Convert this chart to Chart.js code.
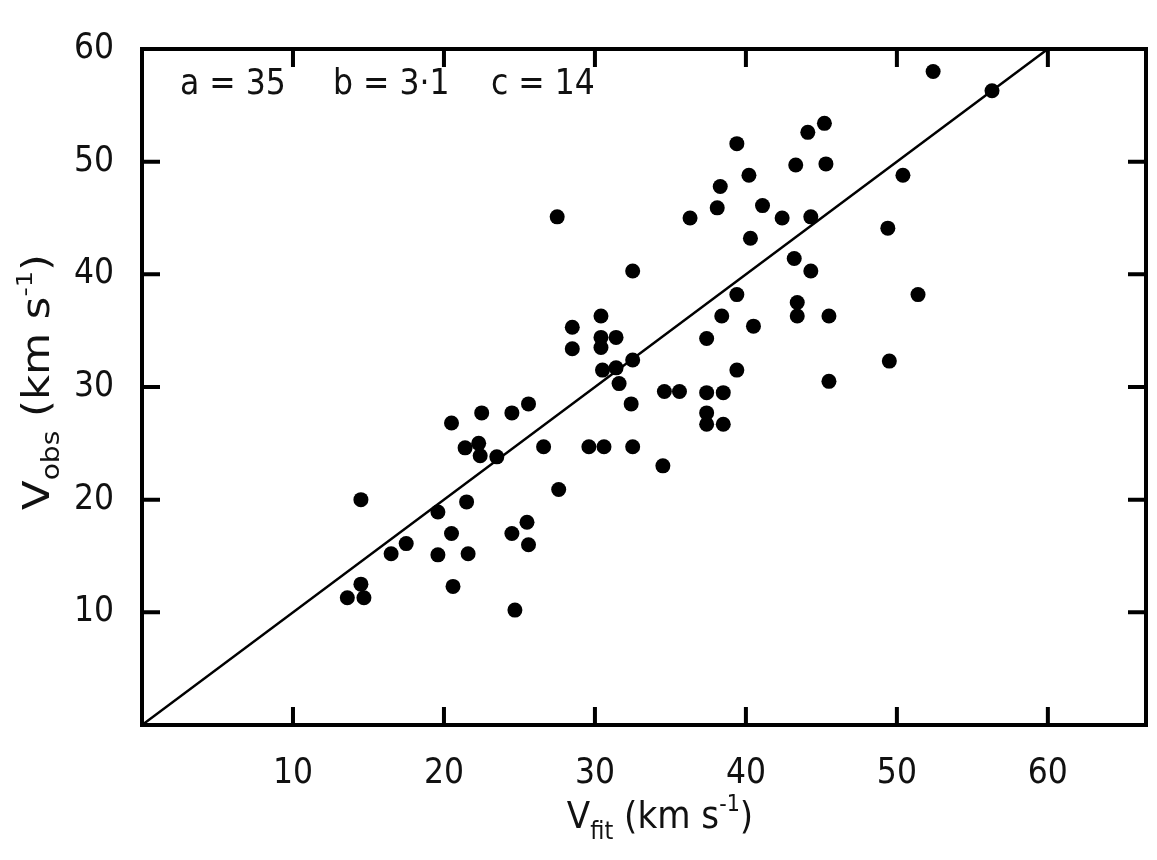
<!DOCTYPE html>
<html>
<head>
<meta charset="utf-8">
<script src="https://cdn.jsdelivr.net/npm/chart.js@4/dist/chart.umd.min.js"></script>
<style>
html,body{margin:0;padding:0;background:#fff;}
#wrap{width:1157px;height:860px;}
</style>
</head>
<body>
<div id="wrap"><canvas id="c" width="1157" height="860"></canvas></div>
<script>
// ---- data ----
const vFit = [13.6,14.5,14.7,14.5,16.5,17.5,19.6,19.6,20.5,20.6,20.5,21.4,21.5,21.6,22.3,22.4,22.5,23.5,24.5,24.5,
              24.7,25.5,25.6,25.6,26.6,27.5,27.6,28.5,28.5,29.6,30.4,30.4,30.4,30.5,31.4,31.4,31.6,32.5,32.4,30.6,
              32.5,32.5,34.5,34.6,35.6,36.3,37.4,37.4,38.5,37.4,37.4,38.5,38.1,38.3,38.4,39.4,39.4,39.4,40.2,40.3,
              40.5,41.1,42.4,43.2,43.3,43.4,43.4,44.1,44.3,44.3,45.2,45.3,45.5,45.5,49.4,49.5,50.4,51.4,52.4,56.3];
const vObs = [11.3,12.5,11.3,20.0,15.2,16.1,15.1,18.9,17.0,12.3,26.8,24.6,19.8,15.2,25.0,23.9,27.7,23.8,27.7,17.0,
              10.2,18.0,16.0,28.5,24.7,45.1,20.9,33.4,35.3,24.7,36.3,34.4,33.5,31.5,34.4,31.7,30.3,32.4,28.5,24.7,
              24.7,40.3,23.0,29.6,29.6,45.0,34.3,29.5,29.5,27.7,26.7,26.7,45.9,47.8,36.3,51.6,38.2,31.5,48.8,43.2,
              35.4,46.1,45.0,41.4,49.7,37.5,36.3,52.6,45.1,40.3,53.4,49.8,36.3,30.5,44.1,32.3,48.8,38.2,58.0,56.3];
const equalityLine = [0, 60];              // V_obs = V_fit
const xTickValues = [10, 20, 30, 40, 50, 60];
const yTickValues = [10, 20, 30, 40, 50, 60];
const paramLabels = ['a = 35', 'b = 3·1', 'c = 14'];
const xTitle = {main: 'V', sub: 'fit', rest: ' (km s', sup: '-1', end: ')'};
const yTitle = {main: 'V', sub: 'obs', rest: ' (km s', sup: '-1', end: ')'};

const FONT = "'DejaVu Sans Condensed', 'DejaVu Sans', sans-serif";
Chart.defaults.font.family = FONT;
Chart.defaults.color = '#111';

function drawTitle(ctx, t, size) {
  const subSize = Math.round(size * 0.66), supSize = Math.round(size * 0.6);
  const parts = [
    {s: t.main, f: size, dy: 0},
    {s: t.sub, f: subSize, dy: size * 0.28},
    {s: t.rest, f: size, dy: 0},
    {s: t.sup, f: supSize, dy: -size * 0.45},
    {s: t.end, f: size, dy: 0}
  ];
  let w = 0;
  parts.forEach(p => { ctx.font = p.f + 'px ' + FONT; w += ctx.measureText(p.s).width; });
  let x = -w / 2;
  parts.forEach(p => {
    ctx.font = p.f + 'px ' + FONT;
    ctx.fillText(p.s, x, p.dy);
    x += ctx.measureText(p.s).width;
  });
}

const decorations = {
  id: 'decorations',
  afterDraw(chart) {
    const {ctx, chartArea: a, scales} = chart;
    ctx.save();
    ctx.strokeStyle = '#000';
    ctx.fillStyle = '#111';
    ctx.lineWidth = 4;
    ctx.strokeRect(a.left, a.top, a.right - a.left, a.bottom - a.top);
    const TL = 18;
    ctx.beginPath();
    xTickValues.forEach(v => {
      const px = scales.x.getPixelForValue(v);
      ctx.moveTo(px, a.bottom); ctx.lineTo(px, a.bottom - TL);
      ctx.moveTo(px, a.top); ctx.lineTo(px, a.top + TL);
    });
    yTickValues.forEach(v => {
      const py = scales.y.getPixelForValue(v);
      if (py <= a.top + 1) return;
      ctx.moveTo(a.left, py); ctx.lineTo(a.left + TL, py);
      ctx.moveTo(a.right, py); ctx.lineTo(a.right - TL, py);
    });
    ctx.stroke();
    ctx.textBaseline = 'alphabetic';
    ctx.textAlign = 'left';
    ctx.font = '35px ' + FONT;
    const px = [180, 333, 491];
    paramLabels.forEach((s, i) => ctx.fillText(s, px[i], 94));
    ctx.save();
    ctx.translate(660, 828);
    drawTitle(ctx, xTitle, 38);
    ctx.restore();
    ctx.save();
    ctx.translate(49, 382);
    ctx.rotate(-Math.PI / 2);
    ctx.scale(1.3, 1);
    drawTitle(ctx, yTitle, 37);
    ctx.restore();
    ctx.restore();
  }
};

new Chart(document.getElementById('c'), {
  type: 'scatter',
  data: {
    datasets: [
      {
        type: 'line',
        data: equalityLine.map(v => ({x: v, y: v})),
        borderColor: '#000',
        borderWidth: 2.5,
        pointRadius: 0,
        fill: false
      },
      {
        data: vFit.map((x, i) => ({x: x, y: vObs[i]})),
        backgroundColor: '#000',
        borderWidth: 0,
        pointRadius: 7.5,
        pointHoverRadius: 7.5
      }
    ]
  },
  options: {
    responsive: false,
    animation: false,
    devicePixelRatio: 1,
    layout: {padding: {top: 27, right: 11, left: 0, bottom: 0}},
    plugins: {legend: {display: false}, tooltip: {enabled: false}},
    scales: {
      x: {
        type: 'linear', min: 0, max: 66.5,
        afterBuildTicks: s => { s.ticks = xTickValues.map(v => ({value: v})); },
        afterFit: s => { s.height = 135; },
        grid: {display: false, drawTicks: false},
        border: {display: false},
        ticks: {font: {size: 35}, color: '#111', padding: 28, maxRotation: 0, callback: v => String(v)}
      },
      y: {
        type: 'linear', min: 0, max: 60,
        afterBuildTicks: s => { s.ticks = yTickValues.map(v => ({value: v})); },
        afterFit: s => { s.width = 142; },
        grid: {display: false, drawTicks: false},
        border: {display: false},
        ticks: {font: {size: 35}, color: '#111', padding: 28, callback: v => String(v)}
      }
    }
  },
  plugins: [decorations]
});
</script>
</body>
</html>
